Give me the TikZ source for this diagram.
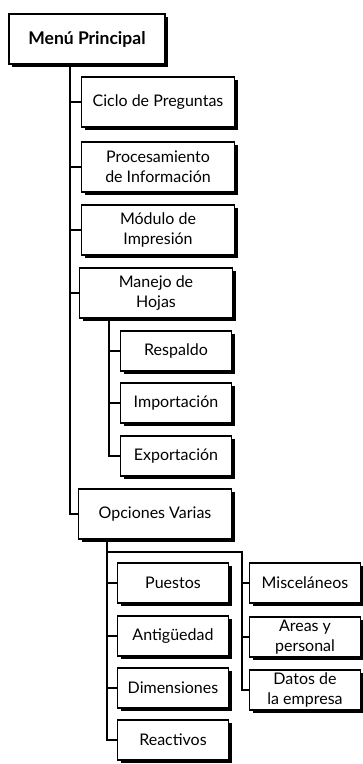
\documentclass[tikz,border=0pt]{standalone}
\usepackage{fontspec}
\setmainfont{Lato}
\usetikzlibrary{shadows}

\tikzset{
	menubox/.style={draw, line width=1.4pt, fill=white, align=center, inner sep=2pt,
		drop shadow={shadow xshift=3pt, shadow yshift=-3pt, fill=black, opacity=1}},
	mainbox/.style={menubox, minimum width=153pt, minimum height=50pt},
	subbox/.style={menubox, minimum width=111pt, minimum height=40pt},
	link/.style={line width=1.4pt}
}

\begin{document}
\begin{tikzpicture}[x=1pt, y=-1pt, font=\fontsize{16}{20}\selectfont]

		\useasboundingbox (0,0) rectangle (363,764);

		% main menu
		\node[menubox, minimum width=156pt, minimum height=50pt, font=\fontsize{17.5}{20}\selectfont\bfseries] (menu) at (87,39) {Menú Principal};

		% first level
		\node[mainbox] (ciclo) at (158,102) {Ciclo de Preguntas};
		\node[mainbox] (proc) at (158,167) {Procesamiento\\de Información};
		\node[mainbox] (modulo) at (158,230) {Módulo de\\Impresión};
		\node[mainbox] (hojas) at (156,293) {Manejo de\\Hojas};
		\node[mainbox] (opc) at (155,514) {Opciones Varias};

		% sheets
		\node[subbox] (resp) at (176,351) {Respaldo};
		\node[subbox] (impo) at (176,403) {Importación};
		\node[subbox] (expo) at (176,456) {Exportación};

		% options
		\node[subbox] (puestos) at (173,583) {Puestos};
		\node[subbox] (antig) at (173,636) {Antigüedad};
		\node[subbox] (dimen) at (173,688) {Dimensiones};
		\node[subbox] (react) at (173,740) {Reactivos};
		\node[subbox] (misc) at (305,583) {Misceláneos};
		\node[subbox] (areas) at (305,637) {Areas y\\personal};
		\node[subbox] (datos) at (305,690) {Datos de\\la empresa};

		% stems
		\coordinate (mstem) at (70,0);
		\coordinate (hstem) at (109,0);
		\coordinate (ostem) at (107,0);
		\coordinate (rstem) at (242,552);

		% connectors
		\draw[link] (menu.south -| mstem) |- (opc.west);
		\foreach \n in {ciclo,proc,modulo,hojas}
			\draw[link] (\n.west -| mstem) -- (\n.west);

		\draw[link] (hojas.south -| hstem) |- (expo.west);
		\foreach \n in {resp,impo}
			\draw[link] (\n.west -| hstem) -- (\n.west);

		\draw[link] (opc.south -| ostem) |- (react.west);
		\foreach \n in {puestos,antig,dimen}
			\draw[link] (\n.west -| ostem) -- (\n.west);
		\draw[link] (ostem |- rstem) -- (rstem) |- (datos.west);
		\foreach \n in {misc,areas}
			\draw[link] (\n.west -| rstem) -- (\n.west);

\end{tikzpicture}
\end{document}
